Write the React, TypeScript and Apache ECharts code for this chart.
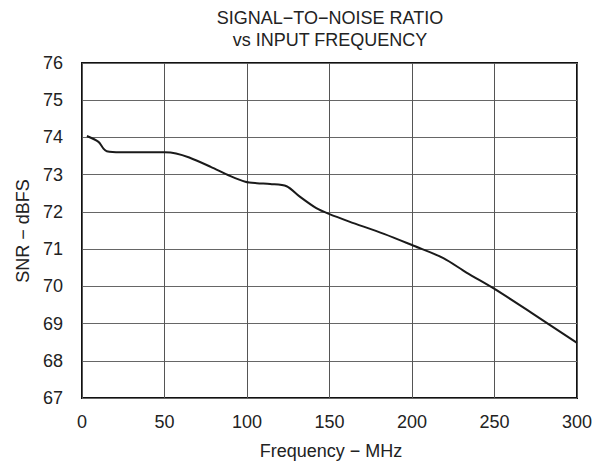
import React, { useEffect, useRef } from "react";
import * as echarts from "echarts";

const freqMHz = [3, 10, 13, 15, 23, 35, 50, 57, 65, 78, 90, 99, 106, 114, 124, 132, 142, 150, 162, 183, 201, 219, 233, 250, 272, 300];
const snrDBFS = [74.04, 73.88, 73.7, 73.63, 73.6, 73.6, 73.6, 73.57, 73.46, 73.21, 72.96, 72.81, 72.77, 72.75, 72.69, 72.41, 72.1, 71.94, 71.74, 71.41, 71.09, 70.76, 70.37, 69.93, 69.3, 68.48];
const titleLines = ["SIGNAL\u2212TO\u2212NOISE RATIO", "vs INPUT FREQUENCY"];
const xName = "Frequency \u2212 MHz";
const yName = "SNR \u2212 dBFS";

const FONT = "'Liberation Sans', Arial, sans-serif";

export default function App() {
  const ref = useRef<HTMLDivElement>(null);
  useEffect(() => {
    if (!ref.current) return;
    const chart = echarts.init(ref.current, undefined, { renderer: "svg" });
    const txt = (text: string, x: number, y: number, rot = 0) => ({
      type: "text", x, y, rotation: rot,
      style: { text, fontSize: 18, fontFamily: FONT, fill: "#222", align: "center", verticalAlign: "middle" },
    });
    chart.setOption({
      animation: false,
      backgroundColor: "#fff",
      textStyle: { fontFamily: FONT },
      graphic: [
        txt(titleLines[0], 330, 18),
        txt(titleLines[1], 330, 40),
        txt(xName, 331, 451),
        txt(yName, 23, 231, Math.PI / 2),
      ],
      grid: { left: 82, right: 26, top: 63, bottom: 66, show: true, borderColor: "#111", borderWidth: 2, backgroundColor: "transparent" },
      xAxis: {
        type: "value", min: 0, max: 300, interval: 50,
        axisLine: { show: false }, axisTick: { show: false },
        axisLabel: { margin: 15, fontSize: 18, color: "#222", fontFamily: FONT },
        splitLine: { show: true, lineStyle: { color: "#555", width: 1 } },
      },
      yAxis: {
        type: "value", min: 67, max: 76, interval: 1,
        axisLine: { show: false }, axisTick: { show: false },
        axisLabel: { margin: 19, fontSize: 18, color: "#222", fontFamily: FONT },
        splitLine: { show: true, lineStyle: { color: "#666", width: 1 } },
      },
      series: [
        {
          type: "line",
          data: freqMHz.map((f, i) => [f, snrDBFS[i]]),
          smooth: 0.3,
          showSymbol: false,
          lineStyle: { color: "#1a1a1a", width: 2 },
        },
      ],
    });
    return () => chart.dispose();
  }, []);
  return <div ref={ref} style={{ width: 603, height: 464, position: "absolute", left: 0, top: 0 }} />;
}
